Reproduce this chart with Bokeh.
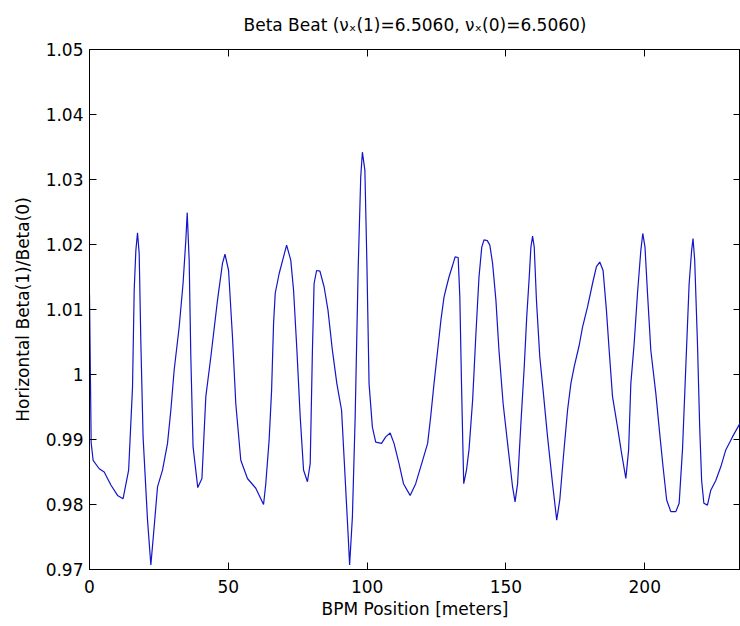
from bokeh.plotting import figure
from bokeh.models import LinearAxis, FixedTicker, CustomJSTickFormatter, Range1d
from bokeh.embed import file_html
from bokeh.resources import INLINE

title_text = "Beta Beat (\u03bd\u2093(1)=6.5060, \u03bd\u2093(0)=6.5060)"
x_label = "BPM Position [meters]"
y_label = "Horizontal Beta(1)/Beta(0)"

x_ticks = [0, 50, 100, 150, 200]
y_ticks = [0.97, 0.98, 0.99, 1.00, 1.01, 1.02, 1.03, 1.04, 1.05]

bpm_position = [
    0, 0.6, 1.3, 3.5, 5.3, 7.7, 10.1, 12.1, 14.1, 15.5, 16.1, 16.7, 17.3, 17.9, 18.5, 19.3,
    20.9, 22.1, 23.3, 24.5, 26.3, 28.1, 29.3, 30.5, 32.3, 33.7, 34.7, 35.2, 35.9, 36.5, 37.3,
    39.0, 40.5, 41.9, 43.7, 46.1, 47.9, 48.8, 50.1, 51.5, 52.7, 54.5, 56.9, 59.9, 62.7, 63.5,
    64.7, 65.6, 66.3, 66.9, 68.3, 71.0, 72.5, 73.5, 74.7, 75.9, 77.1, 78.5, 79.5, 80.3, 80.9,
    81.8, 83.0, 84.5, 85.9, 87.5, 89.1, 90.8, 92.0, 93.2, 93.7, 94.7, 95.7, 96.8, 97.7, 98.3,
    99.2, 99.9, 100.7, 101.9, 103.1, 105.2, 106.7, 108.3, 109.7, 111.5, 113.1, 115.5, 117.5,
    120.0, 121.8, 122.9, 124.1, 125.4, 126.6, 127.7, 128.6, 129.5, 130.8, 131.7, 132.8, 133.4,
    134.0, 134.5, 134.8, 135.8, 136.7, 138.0, 139.2, 140.3, 141.3, 142.1, 143.3, 144.2, 145.2,
    146.4, 147.5, 149.0, 150.6, 152.4, 153.3, 154.2, 155.4, 156.6, 157.5, 158.4, 159.0, 159.6,
    160.2, 161.0, 162.2, 163.5, 165.0, 166.8, 168.3, 169.4, 170.7, 172.2, 173.4, 174.6, 176.4,
    177.6, 179.4, 181.2, 182.6, 183.8, 185.0, 186.2, 187.2, 188.4, 190.2, 191.7, 193.2, 194.2,
    195.0, 196.2, 197.4, 198.6, 199.3, 200.1, 201.0, 202.2, 204.0, 205.4, 206.6, 207.9, 209.4,
    211.2, 212.4, 213.6, 214.8, 216.0, 216.9, 217.4, 218.0, 219.0, 219.8, 220.5, 221.3, 222.6,
    223.8, 225.6, 227.4, 229.2, 231.6, 234.6,
]

beta_ratio = [
    1.0124, 0.9895, 0.9868, 0.9855, 0.9850, 0.9830, 0.9814, 0.9809, 0.9853, 0.9981, 1.0130,
    1.0191, 1.0218, 1.0186, 1.0048, 0.9904,
    0.9776, 0.9707, 0.9766, 0.9827, 0.9853, 0.9894, 0.9945, 1.0007, 1.0073, 1.0140, 1.0207,
    1.0249, 1.0176, 1.0027, 0.9889,
    0.9826, 0.9840, 0.9966, 1.0027, 1.0114, 1.0171, 1.0185, 1.0160, 1.0058, 0.9955, 0.9868,
    0.9840, 0.9825, 0.9800, 0.9832,
    0.9899, 0.9976, 1.0078, 1.0125, 1.0155, 1.0199, 1.0176, 1.0130, 1.0038, 0.9935, 0.9853,
    0.9835, 0.9863, 1.0037, 1.0140,
    1.0160, 1.0159, 1.0135, 1.0099, 1.0037, 0.9986, 0.9945, 0.9848, 0.9750, 0.9707, 0.9781,
    0.9935, 1.0166, 1.0304, 1.0342,
    1.0314, 1.0176, 0.9986, 0.9919, 0.9896, 0.9894, 0.9904, 0.9910, 0.9894, 0.9863, 0.9832,
    0.9814, 0.9832,
    0.9868, 0.9894, 0.9935, 0.9986, 1.0037, 1.0084, 1.0119, 1.0135, 1.0150, 1.0168, 1.0181,
    1.0180, 1.0119,
    0.9986, 0.9889, 0.9832, 0.9853, 0.9884, 0.9960, 1.0063, 1.0150, 1.0196, 1.0207, 1.0206,
    1.0199, 1.0171,
    1.0114, 1.0037, 0.9955, 0.9894, 0.9827, 0.9804, 0.9832, 0.9925, 1.0012, 1.0089, 1.0150,
    1.0196, 1.0213,
    1.0196, 1.0114, 1.0027, 0.9971, 0.9904, 0.9832, 0.9776, 0.9807, 0.9873, 0.9945, 0.9986,
    1.0012, 1.0045,
    1.0073, 1.0104, 1.0140, 1.0166, 1.0173, 1.0160, 1.0099, 1.0037, 0.9966, 0.9919, 0.9878,
    0.9840, 0.9884,
    0.9986, 1.0048, 1.0125, 1.0191, 1.0217, 1.0196, 1.0125, 1.0037, 0.9971, 0.9909, 0.9858,
    0.9807, 0.9789,
    0.9789, 0.9802, 0.9884, 1.0012, 1.0140, 1.0191, 1.0209, 1.0176, 1.0048, 0.9919, 0.9837,
    0.9802, 0.9799,
    0.9822, 0.9837, 0.9858, 0.9884, 0.9904, 0.9927,
]

assert len(bpm_position) == len(beta_ratio), (len(bpm_position), len(beta_ratio))

FONT = "DejaVu Sans"
FSIZE = "17px"

p = figure(
    width=740, height=626,
    output_backend="svg", toolbar_location=None,
    x_range=Range1d(0, 234.5), y_range=Range1d(0.97, 1.05),
    min_border_left=89, min_border_right=0, min_border_top=49, min_border_bottom=57,
    x_axis_label=x_label, y_axis_label=y_label,
    title=title_text,
)
p.background_fill_color = "white"
p.border_fill_color = "white"
p.outline_line_color = "black"
p.outline_line_width = 1
p.xgrid.visible = False
p.ygrid.visible = False

p.line(bpm_position, beta_ratio, line_color="#1414c8", line_width=1.2)

p.title.align = "center"
p.title.vertical_align = "top"
p.title.text_font = FONT
p.title.text_font_size = FSIZE
p.title.text_font_style = "normal"
p.title.text_color = "black"
p.title.standoff = 26

yfmt = CustomJSTickFormatter(code="return String(Math.round(tick*100)/100);")

for ax in p.xaxis + p.yaxis:
    ax.axis_line_color = "black"
    ax.major_tick_line_color = "black"
    ax.major_tick_in = 7
    ax.major_tick_out = 0
    ax.minor_tick_line_color = None
    ax.major_label_text_font = FONT
    ax.major_label_text_font_size = FSIZE
    ax.major_label_text_color = "black"
    ax.axis_label_text_font = FONT
    ax.axis_label_text_font_size = FSIZE
    ax.axis_label_text_font_style = "normal"
    ax.axis_label_text_color = "black"

p.xaxis.ticker = FixedTicker(ticks=x_ticks)
p.yaxis.ticker = FixedTicker(ticks=y_ticks)
p.yaxis.formatter = yfmt
p.xaxis.major_label_standoff = 10
p.yaxis.major_label_standoff = 6
p.xaxis.axis_label_standoff = 3
p.yaxis.axis_label_standoff = 10

top_axis = LinearAxis(ticker=FixedTicker(ticks=x_ticks),
                      formatter=CustomJSTickFormatter(code="return '';"))
right_axis = LinearAxis(ticker=FixedTicker(ticks=y_ticks),
                        formatter=CustomJSTickFormatter(code="return '';"))
for ax in (top_axis, right_axis):
    ax.axis_line_color = None
    ax.major_tick_line_color = "black"
    ax.major_tick_in = 7
    ax.major_tick_out = 0
    ax.minor_tick_line_color = None
    ax.major_label_text_font_size = "1px"
    ax.major_label_standoff = 0
p.add_layout(top_axis, "above")
p.add_layout(right_axis, "right")

open("out.html", "w").write(file_html(p, INLINE))
